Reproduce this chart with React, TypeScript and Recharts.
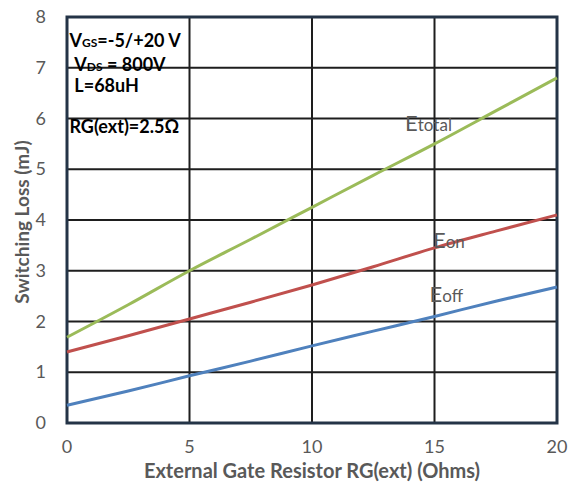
import React from 'react';
import {
  LineChart,
  Line,
  XAxis,
  YAxis,
  CartesianGrid,
  ReferenceArea,
  ReferenceDot,
  Label,
} from 'recharts';

// values (mJ)
const resistance = [0, 2.5, 5, 7.5, 10, 12.5, 15, 17.5, 20];
const eTotal = [1.69, 2.33, 3.0, 3.62, 4.25, 4.88, 5.5, 6.15, 6.8];
const eOn = [1.4, 1.72, 2.05, 2.38, 2.72, 3.08, 3.45, 3.78, 4.1];
const eOff = [0.35, 0.63, 0.93, 1.22, 1.52, 1.81, 2.1, 2.4, 2.68];

const xTicks = [0, 5, 10, 15, 20];
const yTicks = [0, 1, 2, 3, 4, 5, 6, 7, 8];

const conditions = [
  { main: 'V', sub: 'GS', rest: '=-5/+20 V', x: 0.1, y: 7.4 },
  { main: 'V', sub: 'DS', rest: ' = 800V', x: 0.3, y: 6.94 },
  { main: 'L=68uH', sub: '', rest: '', x: 0.3, y: 6.52 },
  { main: 'RG(ext)=2.5Ω', sub: '', rest: '', x: 0.1, y: 5.71 },
];

const curveLabels = [
  { head: 'E', tail: 'total', x: 13.8, y: 5.75 },
  { head: 'E', tail: 'on', x: 14.94, y: 3.45 },
  { head: 'E', tail: 'off', x: 14.8, y: 2.38 },
];

const data = resistance.map((r, i) => ({
  r,
  total: eTotal[i],
  on: eOn[i],
  off: eOff[i],
}));

const FONT = 'Lato, "Open Sans", sans-serif';
const GRAY = '#595959';
const FRAME = '#243447';

const YTick = (props: any) => (
  <text x={46} y={props.y + 6} textAnchor="end" fontSize={18} fill={GRAY} fontFamily={FONT}>
    {props.payload.value}
  </text>
);

const XTick = (props: any) => (
  <text x={props.x} y={453} textAnchor="middle" fontSize={18} fill={GRAY} fontFamily={FONT}>
    {props.payload.value}
  </text>
);

export default function App() {
  return (
    <div style={{ position: 'absolute', left: 0, top: 0, background: '#fff' }}>
      <LineChart
        width={582}
        height={482}
        data={data}
        margin={{ top: 17, right: 25, left: 0, bottom: 0 }}
      >
        <CartesianGrid stroke="#1e1e1e" strokeWidth={2} />
        <XAxis
          dataKey="r"
          type="number"
          domain={[0, 20]}
          ticks={xTicks}
          height={59}
          tickLine={false}
          axisLine={false}
          tick={<XTick />}
        >
          <Label
            value="External Gate Resistor RG(ext) (Ohms)"
            position="insideBottom"
            offset={4}
            fill={GRAY}
            fontSize={20}
            fontWeight="bold"
            fontFamily={FONT}
          />
        </XAxis>
        <YAxis
          type="number"
          domain={[0, 8]}
          ticks={yTicks}
          width={67}
          tickLine={false}
          axisLine={false}
          tick={<YTick />}
        >
          <Label
            content={({ viewBox }: any) => (
              <text
                transform={`translate(29, ${viewBox.y + viewBox.height / 2 + 2}) rotate(-90)`}
                textAnchor="middle"
                fill={GRAY}
                fontSize={19}
                fontWeight="bold"
                fontFamily={FONT}
              >
                Switching  Loss (mJ)
              </text>
            )}
          />
        </YAxis>
        <ReferenceArea
          x1={0}
          x2={20}
          y1={0}
          y2={8}
          fill="none"
          stroke={FRAME}
          strokeWidth={3}
          ifOverflow="visible"
        />
        <Line type="monotone" dataKey="total" stroke="#9bbb59" strokeWidth={3} dot={false} isAnimationActive={false} />
        <Line type="monotone" dataKey="on" stroke="#c0504d" strokeWidth={3} dot={false} isAnimationActive={false} />
        <Line type="monotone" dataKey="off" stroke="#4f81bd" strokeWidth={3} dot={false} isAnimationActive={false} />
        {conditions.map((c) => (
          <ReferenceDot
            key={c.main + c.rest}
            x={c.x}
            y={c.y}
            r={0}
            ifOverflow="visible"
            shape={(p: any) => (
              <text x={p.cx} y={p.cy} fontSize={18} fontWeight="bold" fill="#000" fontFamily={FONT}>
                {c.main}
                {c.sub && <tspan fontSize={12}>{c.sub}</tspan>}
                {c.rest}
              </text>
            )}
          />
        ))}
        {curveLabels.map((c) => (
          <ReferenceDot
            key={c.tail}
            x={c.x}
            y={c.y}
            r={0}
            ifOverflow="visible"
            shape={(p: any) => (
              <text x={p.cx} y={p.cy} fill={GRAY} fontFamily={FONT}>
                <tspan fontSize={22}>{c.head}</tspan>
                <tspan fontSize={17}>{c.tail}</tspan>
              </text>
            )}
          />
        ))}
      </LineChart>
    </div>
  );
}
